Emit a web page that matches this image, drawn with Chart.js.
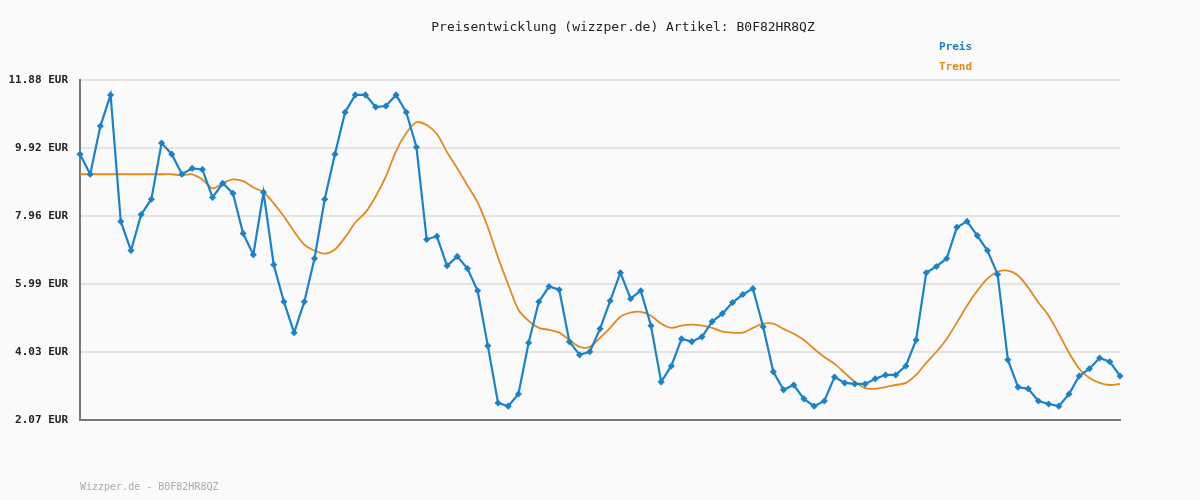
<!DOCTYPE html>
<html><head><meta charset="utf-8">
<script src="https://cdn.jsdelivr.net/npm/chart.js@4"></script>
<style>html,body{margin:0;padding:0;background:#fafafa}#w{width:1200px;height:500px}</style>
</head><body><div id="w"><canvas id="c" width="1200" height="500"></canvas></div>
<script>
const titleText = "Preisentwicklung (wizzper.de) Artikel: B0F82HR8QZ";
const footerText = "Wizzper.de - B0F82HR8QZ";
const tickValues = [2.07, 4.03, 5.99, 7.96, 9.92, 11.88];
const preis = [9.74,9.16,10.55,11.45,7.80,6.96,8.00,8.44,10.06,9.74,9.16,9.33,9.30,8.49,8.90,8.61,7.45,6.84,8.64,6.55,5.48,4.59,5.48,6.73,8.44,9.74,10.95,11.45,11.45,11.10,11.13,11.45,10.95,9.94,7.28,7.37,6.52,6.79,6.44,5.80,4.21,2.56,2.47,2.82,4.30,5.48,5.92,5.83,4.33,3.95,4.04,4.70,5.51,6.32,5.57,5.80,4.79,3.17,3.63,4.41,4.33,4.47,4.91,5.14,5.46,5.69,5.86,4.76,3.46,2.94,3.08,2.68,2.47,2.62,3.31,3.14,3.11,3.11,3.26,3.37,3.37,3.63,4.38,6.32,6.50,6.73,7.63,7.80,7.39,6.96,6.27,3.81,3.02,2.97,2.62,2.53,2.47,2.82,3.34,3.55,3.86,3.75,3.34];
const trend = [9.16,9.16,9.16,9.16,9.16,9.16,9.16,9.16,9.16,9.16,9.13,9.16,9.01,8.75,8.90,9.01,8.96,8.78,8.64,8.32,7.94,7.51,7.13,6.96,6.87,6.99,7.34,7.77,8.06,8.52,9.10,9.83,10.35,10.66,10.58,10.32,9.80,9.33,8.84,8.35,7.63,6.76,5.98,5.25,4.93,4.73,4.67,4.59,4.38,4.18,4.18,4.44,4.73,5.05,5.17,5.19,5.08,4.85,4.73,4.79,4.82,4.79,4.73,4.62,4.59,4.59,4.73,4.85,4.85,4.70,4.56,4.38,4.12,3.89,3.69,3.43,3.17,2.99,2.97,3.02,3.08,3.14,3.37,3.72,4.04,4.41,4.88,5.37,5.80,6.15,6.35,6.38,6.24,5.89,5.46,5.08,4.56,4.01,3.55,3.28,3.14,3.08,3.11];
const labels = preis.map((_, i) => i + 1);
const MONO = "'DejaVu Sans Mono', monospace";

const textPlugin = {
  id: 'texts',
  beforeDraw(chart) {
    const c = chart.ctx; c.save();
    c.fillStyle = '#fafafa'; c.fillRect(0, 0, chart.width, chart.height); c.restore();
  },
  afterDraw(chart) {
    const c = chart.ctx; c.save();
    c.textBaseline = 'middle';
    c.font = "13px " + MONO; c.fillStyle = '#222'; c.textAlign = 'center';
    c.fillText(titleText, 623, 28);
    c.font = "bold 11px " + MONO; c.textAlign = 'left';
    c.fillStyle = '#1a82c8'; c.fillText('Preis', 939, 47);
    c.fillStyle = '#e08a1e'; c.fillText('Trend', 939, 67);
    c.font = "10px " + MONO; c.fillStyle = '#aaa';
    c.fillText(footerText, 80, 487);
    c.restore();
  }
};

new Chart(document.getElementById('c'), {
  type: 'line',
  data: { labels, datasets: [
    { label: 'Trend', data: trend, borderColor: '#e08a1e', borderWidth: 1.8, pointRadius: 0, tension: 0.3, order: 2 },
    { label: 'Preis', data: preis, borderColor: '#1a82c8', backgroundColor: '#1a82c8', borderWidth: 2.2, pointRadius: 2, pointStyle: 'rectRot', tension: 0, order: 1 }
  ]},
  options: {
    responsive: false, animation: false, devicePixelRatio: 1,
    layout: { padding: { left: 0, right: 80, top: 80, bottom: 72 } },
    plugins: { legend: { display: false }, tooltip: { enabled: false } },
    scales: {
      x: { offset: false, grid: { display: false }, ticks: { display: false },
           border: { color: '#777', width: 2 } },
      y: { min: 2.07, max: 11.88,
           afterBuildTicks: s => { s.ticks = tickValues.map(v => ({ value: v })); },
           afterFit: s => { s.width = 80; },
           grid: { color: '#e4e4e4', lineWidth: 2, drawTicks: false },
           border: { color: '#777', width: 2 },
           ticks: { padding: 12, color: '#222', font: { family: MONO, size: 11, weight: 'bold' },
                    callback: v => v.toFixed(2) + ' EUR' } }
    }
  },
  plugins: [textPlugin]
});
</script></body></html>
